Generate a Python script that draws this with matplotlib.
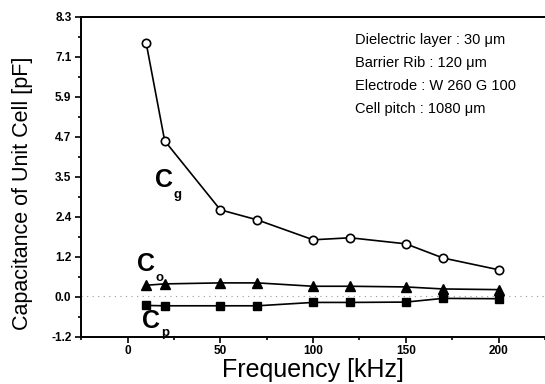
import matplotlib
matplotlib.use('Agg')
import matplotlib.pyplot as plt
import numpy as np
from matplotlib.ticker import MultipleLocator, FixedLocator

plt.rcParams['font.family'] = ['Liberation Sans', 'DejaVu Sans']

# frequency [kHz]
freq = [10, 20, 50, 70, 100, 120, 150, 170, 200]
# capacitance [pF]
cg = [7.53, 4.62, 2.57, 2.27, 1.68, 1.74, 1.56, 1.14, 0.79]
co = [0.33, 0.37, 0.40, 0.40, 0.30, 0.30, 0.28, 0.22, 0.20]
cp = [-0.27, -0.28, -0.28, -0.28, -0.18, -0.18, -0.17, -0.06, -0.07]

yticks = np.linspace(-1.2, 8.3, 9)
ytick_labels = ['-1.2', '0.0', '1.2', '2.4', '3.5', '4.7', '5.9', '7.1', '8.3']
notes = ['Dielectric layer : 30 \u03bcm', 'Barrier Rib : 120 \u03bcm',
         'Electrode : W 260 G 100', 'Cell pitch : 1080 \u03bcm']

fig = plt.figure(figsize=(5.45, 3.84), dpi=100)
ax = fig.add_axes([0.149, 0.123, 0.851, 0.833])

ax.axhline(0, color='#999999', lw=0.8, ls=(0, (1, 4)), zorder=1)

ax.plot(freq, cg, 'k-', lw=1.2, marker='o', ms=6, mfc='white', mec='k', mew=1.2, zorder=3)
ax.plot(freq, co, 'k-', lw=1.2, marker='^', ms=6.5, mfc='k', mec='k', zorder=3)
ax.plot(freq, cp, 'k-', lw=1.2, marker='s', ms=5.5, mfc='k', mec='k', zorder=3)

ax.set_xlim(-25, 225)
ax.set_ylim(-1.2, 8.3)
ax.xaxis.set_major_locator(MultipleLocator(50))
ax.xaxis.set_minor_locator(MultipleLocator(25))
ax.yaxis.set_major_locator(FixedLocator(yticks))
ax.yaxis.set_minor_locator(FixedLocator((yticks[:-1] + yticks[1:]) / 2))
ax.set_yticklabels(ytick_labels)

ax.tick_params(which='both', direction='out', width=1.2, labelsize=8.5)
ax.tick_params(which='major', length=4)
ax.tick_params(axis='x', which='major', pad=2)
ax.tick_params(axis='y', which='major', pad=3)
ax.tick_params(which='minor', length=2.5)
for lab in ax.get_xticklabels() + ax.get_yticklabels():
    lab.set_fontweight('bold')

for s in ['left', 'bottom', 'top']:
    ax.spines[s].set_linewidth(1.4)
ax.spines['right'].set_visible(False)

ax.set_xlabel('Frequency [kHz]', fontsize=18, labelpad=1)
ax.set_ylabel('Capacitance of Unit Cell [pF]', fontsize=15.5)
ax.yaxis.set_label_coords(-0.105, 0.45)

# curve labels
ax.text(15, 3.45, 'C', fontsize=18, fontweight='bold', ha='left', va='center')
ax.text(25, 3.0, 'g', fontsize=9.5, fontweight='bold', ha='left', va='center')
ax.text(5, 0.95, 'C', fontsize=18, fontweight='bold', ha='left', va='center')
ax.text(15, 0.55, 'o', fontsize=9.5, fontweight='bold', ha='left', va='center')
ax.text(8, -0.72, 'C', fontsize=18, fontweight='bold', ha='left', va='center')
ax.text(18, -1.1, 'p', fontsize=9.5, fontweight='bold', ha='left', va='center')

for i, t in enumerate(notes):
    fig.text(355 / 545, 1 - (40 + 23 * i) / 384, t, fontsize=10.5, ha='left', va='center')

fig.savefig('out.png', dpi=100)
